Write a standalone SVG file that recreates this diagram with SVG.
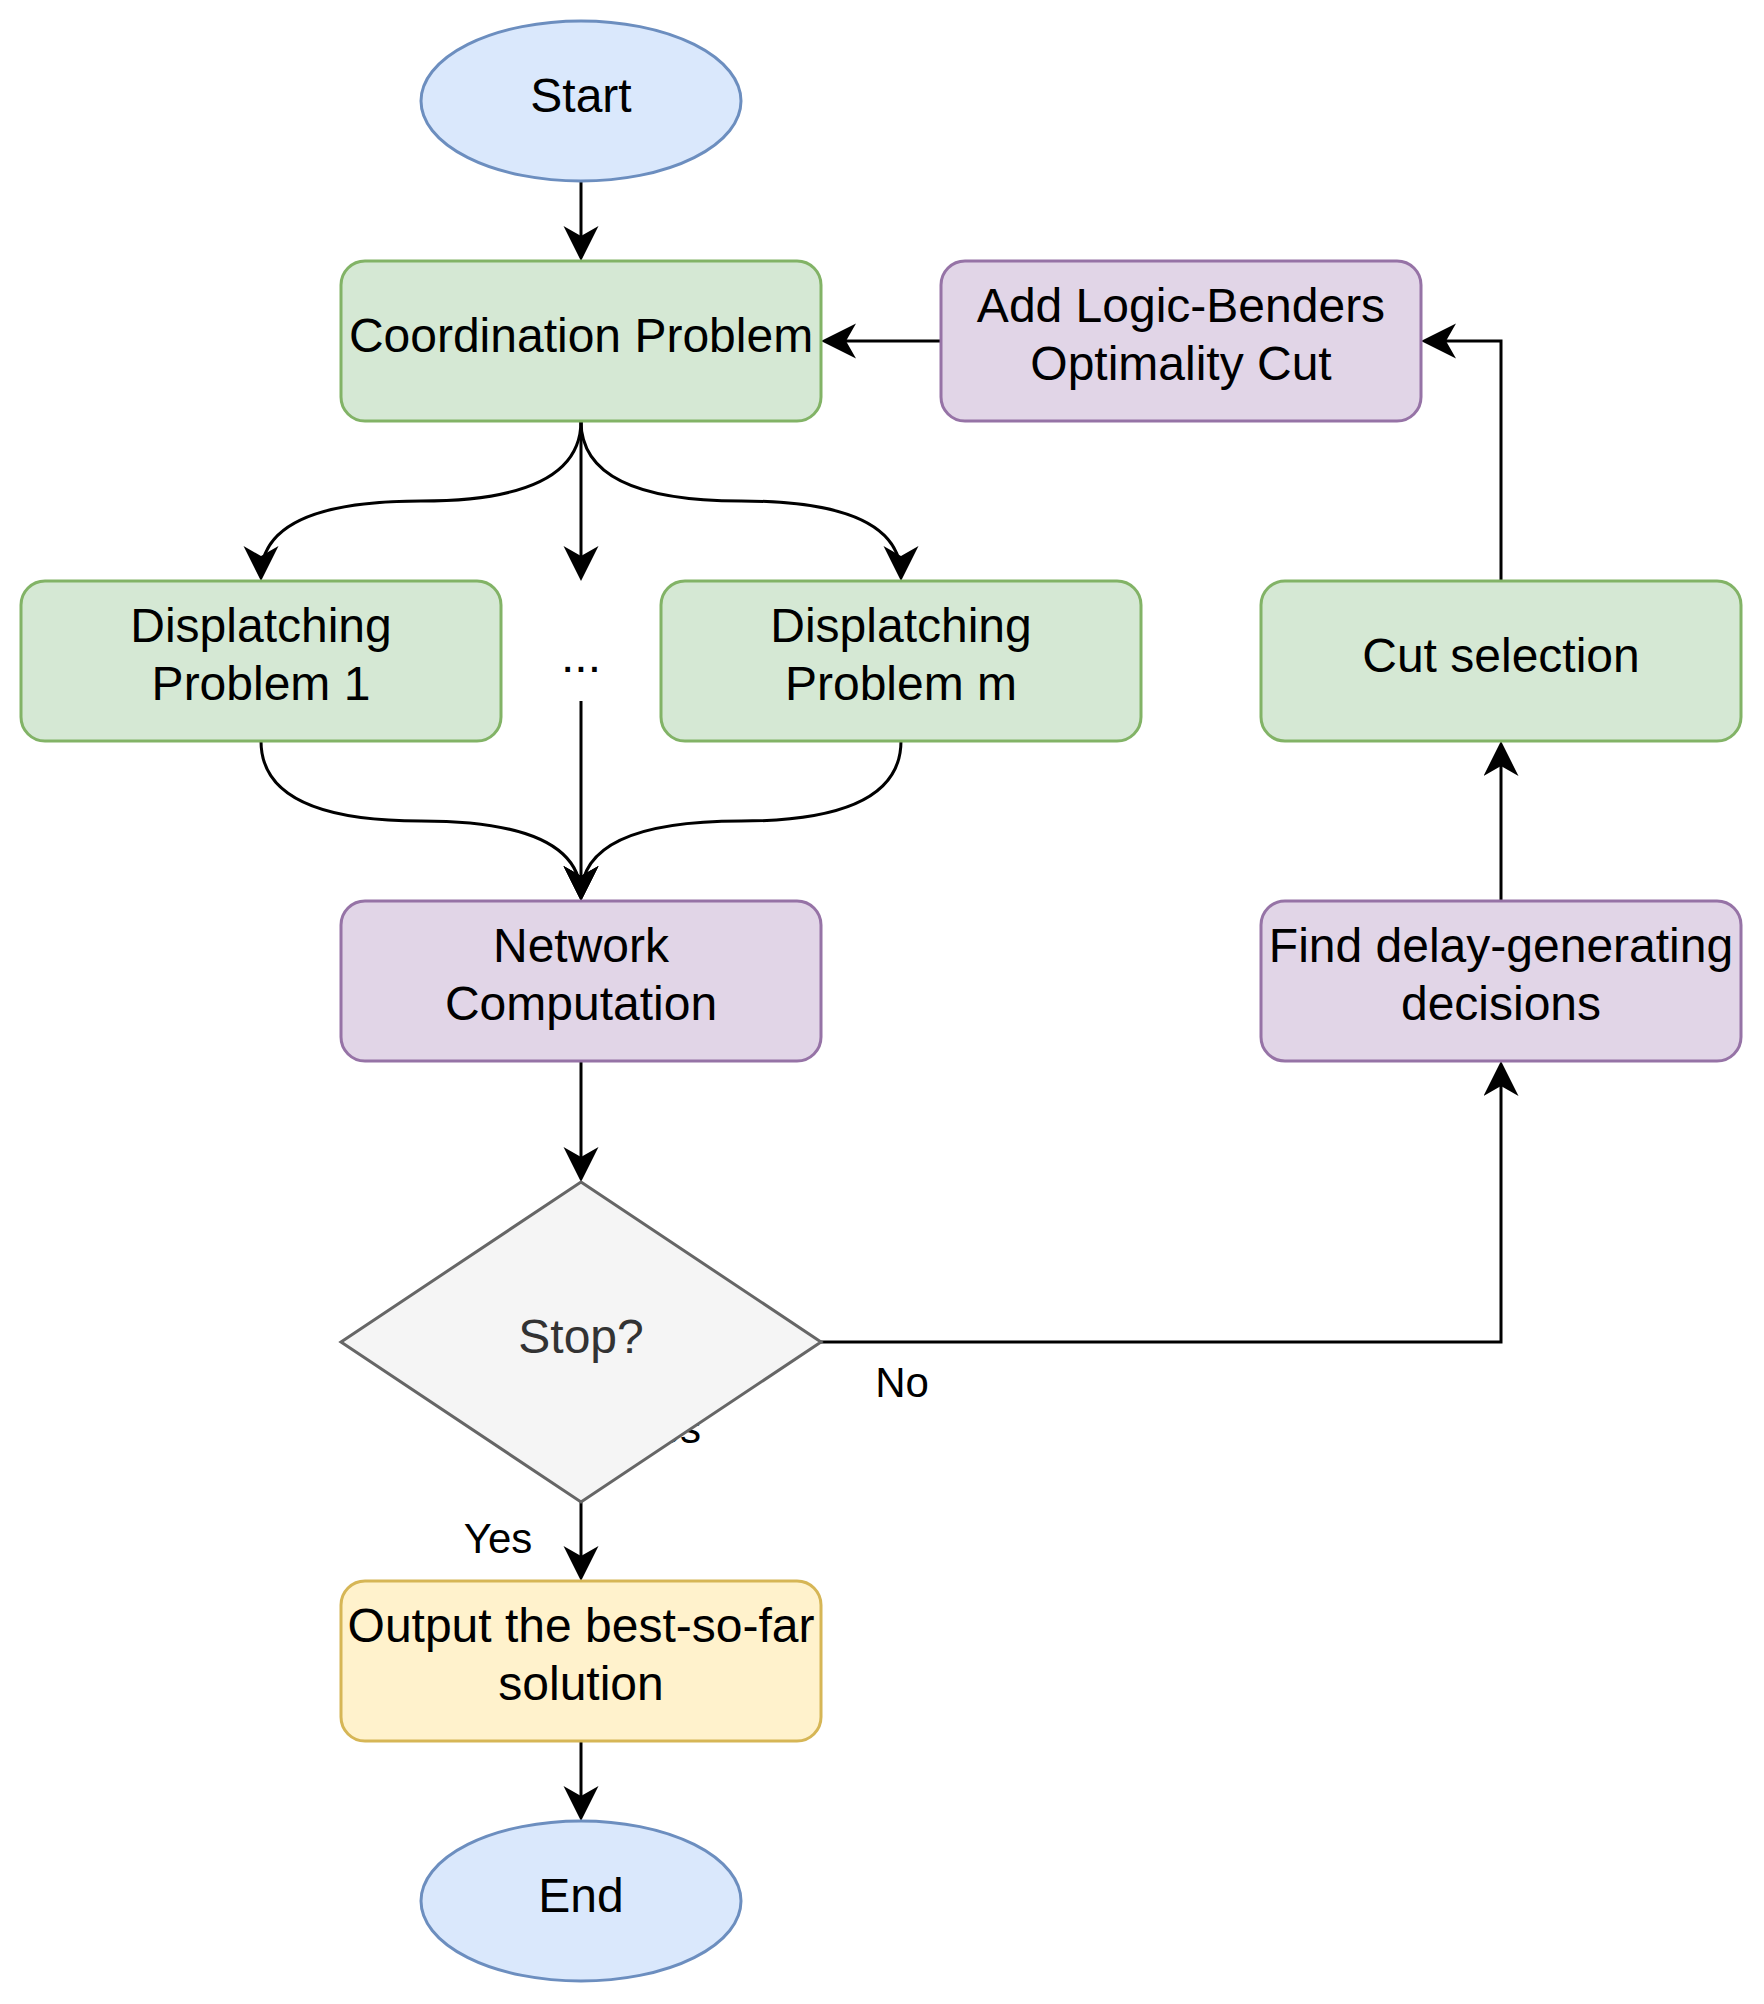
<svg xmlns="http://www.w3.org/2000/svg" width="1764" height="2004" viewBox="0 0 1764 2004">
<style>
text{font-family:"Liberation Sans",Arial,Helvetica,sans-serif;font-size:48px;fill:#000;text-anchor:middle}
.lbl{font-size:42px}
.blue{fill:#dae8fc;stroke:#6c8ebf;stroke-width:3}
.green{fill:#d5e8d4;stroke:#82b366;stroke-width:3}
.purple{fill:#e1d5e7;stroke:#9673a6;stroke-width:3}
.yellow{fill:#fff2cc;stroke:#d6b656;stroke-width:3}
.gray{fill:#f5f5f5;stroke:#666666;stroke-width:3}
.edge{fill:none;stroke:#000;stroke-width:3;marker-end:url(#arr)}
.plain{fill:none;stroke:#000;stroke-width:3}
</style>
<defs>
<marker id="arr" markerUnits="userSpaceOnUse" markerWidth="36" markerHeight="36" viewBox="0 0 36 36" refX="30" refY="17.5" orient="auto">
<path d="M35,17.5 L0,0 L10,17.5 L0,35 Z" fill="#000"/>
</marker>
</defs>
<rect width="1764" height="2004" fill="#fff"/>
<text id="yes-hidden" class="lbl" x="701" y="1443" style="text-anchor:end">Yes</text>
<g id="connectors">
<path class="edge" d="M581,181 L581,256"/>
<path class="edge" d="M581,421 Q581,501 421,501 Q261,501 261,576"/>
<path class="edge" d="M581,421 L581,576"/>
<path class="edge" d="M581,421 Q581,501 741,501 Q901,501 901,576"/>
<path class="edge" d="M261,741 Q261,821 421,821 Q581,821 581,896"/>
<path class="edge" d="M901,741 Q901,821 741,821 Q581,821 581,896"/>
<path class="edge" d="M581,701 L581,896"/>
<path class="edge" d="M581,1061 L581,1177"/>
<path class="edge" d="M581,1502 L581,1576"/>
<path class="edge" d="M581,1741 L581,1816"/>
<path class="edge" d="M821,1342 L1501,1342 L1501,1066"/>
<path class="edge" d="M1501,901 L1501,746"/>
<path class="edge" d="M1501,581 L1501,341 L1426,341"/>
<path class="edge" d="M941,341 L826,341"/>
</g>
<g id="start"><ellipse class="blue" cx="581" cy="101" rx="160" ry="80"/><text x="581" y="112">Start</text></g>
<g id="coordination"><rect class="green" x="341" y="261" width="480" height="160" rx="24"/><text x="581" y="352">Coordination Problem</text></g>
<g id="addcut"><rect class="purple" x="941" y="261" width="480" height="160" rx="24"/><text x="1181" y="322">Add Logic-Benders</text><text x="1181" y="380">Optimality Cut</text></g>
<g id="disp1"><rect class="green" x="21" y="581" width="480" height="160" rx="24"/><text x="261" y="642">Displatching</text><text x="261" y="700">Problem 1</text></g>
<g id="dots"><text x="581" y="672">...</text></g>
<g id="dispm"><rect class="green" x="661" y="581" width="480" height="160" rx="24"/><text x="901" y="642">Displatching</text><text x="901" y="700">Problem m</text></g>
<g id="cutsel"><rect class="green" x="1261" y="581" width="480" height="160" rx="24"/><text x="1501" y="672">Cut selection</text></g>
<g id="network"><rect class="purple" x="341" y="901" width="480" height="160" rx="24"/><text x="581" y="962">Network</text><text x="581" y="1020">Computation</text></g>
<g id="finddelay"><rect class="purple" x="1261" y="901" width="480" height="160" rx="24"/><text x="1501" y="962">Find delay-generating</text><text x="1501" y="1020">decisions</text></g>
<g id="stop"><polygon class="gray" points="581,1182 821,1342 581,1502 341,1342"/><text x="581" y="1353" style="fill:#333333">Stop?</text></g>
<g id="output"><rect class="yellow" x="341" y="1581" width="480" height="160" rx="24"/><text x="581" y="1642">Output the best-so-far</text><text x="581" y="1700">solution</text></g>
<g id="end"><ellipse class="blue" cx="581" cy="1901" rx="160" ry="80"/><text x="581" y="1912">End</text></g>
<g id="labels">
<text class="lbl" x="902" y="1397">No</text>
<text class="lbl" x="498" y="1553">Yes</text>
</g>
</svg>
